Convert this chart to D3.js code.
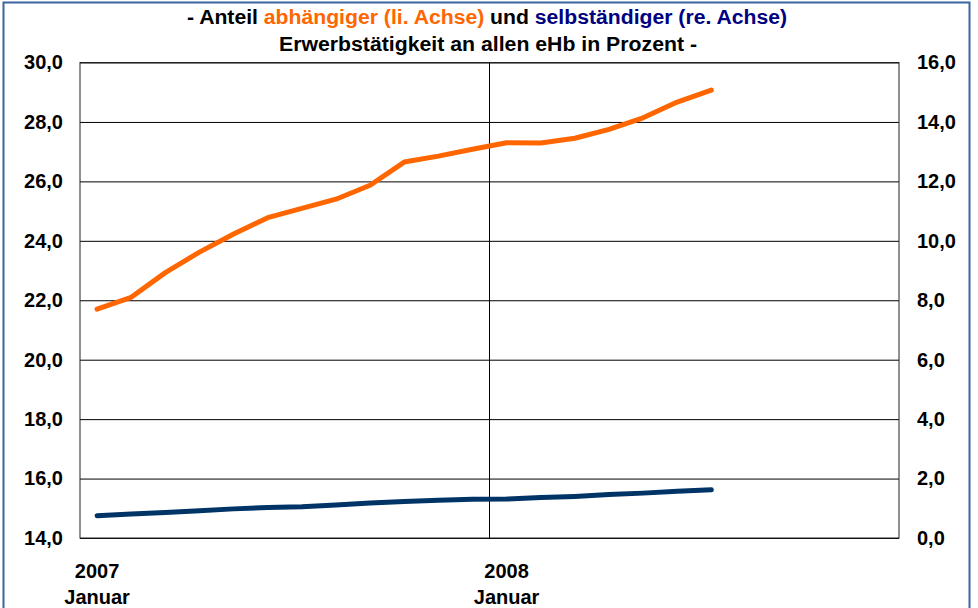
<html>
<head>
<script src="https://d3js.org/d3.v7.min.js"></script>
<style>
  body { margin: 0; background: #fff; }
  svg text { font-family: Arial, "Liberation Sans", sans-serif; font-weight: bold; }
  .gridlines line { stroke: #000; }
  .gridlines .domain { stroke: none; }
</style>
</head>
<body>
<svg width="978" height="608" id="linechart"></svg>
<script>
// months on the category axis (Jan 2007 - Dec 2008)
const months = ['2007-01','2007-02','2007-03','2007-04','2007-05','2007-06','2007-07','2007-08','2007-09','2007-10','2007-11','2007-12',
                '2008-01','2008-02','2008-03','2008-04','2008-05','2008-06','2008-07','2008-08','2008-09','2008-10','2008-11','2008-12'];
// share of dependent employment, left axis
const abhaengig = [21.70, 22.10, 22.93, 23.62, 24.23, 24.78, 25.09, 25.40, 25.87, 26.65, 26.85, 27.08,
                   27.30, 27.29, 27.45, 27.75, 28.14, 28.67, 29.07];
// share of self employment, right axis
const selbstaendig = [0.75, 0.81, 0.86, 0.92, 0.98, 1.03, 1.05, 1.11, 1.18, 1.23, 1.27, 1.30,
                      1.31, 1.36, 1.40, 1.46, 1.51, 1.57, 1.62];
const leftTicks = [14, 16, 18, 20, 22, 24, 26, 28, 30];
const rightTicks = [0, 2, 4, 6, 8, 10, 12, 14, 16];
const yearTicks = ['2007-01', '2008-01'];
const yearLabels = ['2007', '2008'];
const monthLabel = 'Januar';

const svg = d3.select('svg#linechart');
const plot = { left: 80, right: 899, top: 62.5, bottom: 538 };

const fmt = v => d3.format('.1f')(v).replace('.', ',');

const xScale = d3.scaleBand().domain(months).range([plot.left, plot.right]);
const xMid = m => xScale(m) + xScale.bandwidth() / 2;
const yLeft = d3.scaleLinear().domain([14, 30]).range([plot.bottom, plot.top]);
const yRight = d3.scaleLinear().domain([0, 16]).range([plot.bottom, plot.top]);

// outer frame
svg.append('rect')
  .attr('x', 3.5).attr('y', 2.5)
  .attr('width', 966).attr('height', 640)
  .attr('fill', 'none')
  .attr('stroke', '#3a659e')
  .attr('stroke-width', 2);

// title
const t1 = svg.append('text')
  .attr('x', 487).attr('y', 24)
  .attr('text-anchor', 'middle')
  .attr('font-size', 20)
  .attr('textLength', 600).attr('lengthAdjust', 'spacingAndGlyphs');
t1.append('tspan').attr('fill', '#000').text('- Anteil ');
t1.append('tspan').attr('fill', '#ff6600').text('abhängiger (li. Achse)');
t1.append('tspan').attr('fill', '#000').text(' und ');
t1.append('tspan').attr('fill', '#000080').text('selbständiger (re. Achse)');

svg.append('text')
  .attr('x', 488).attr('y', 51)
  .attr('text-anchor', 'middle')
  .attr('font-size', 20)
  .attr('textLength', 418).attr('lengthAdjust', 'spacingAndGlyphs')
  .text('Erwerbstätigkeit an allen eHb in Prozent -');

// horizontal gridlines
svg.append('g')
  .attr('class', 'gridlines')
  .attr('transform', `translate(${plot.left},0)`)
  .call(d3.axisLeft(yLeft).tickValues(leftTicks).tickSize(-(plot.right - plot.left)).tickFormat(''));

// yearly vertical gridline (between December and January)
svg.append('g')
  .selectAll('line')
  .data(yearTicks.slice(1))
  .join('line')
  .attr('x1', d => xScale(d)).attr('x2', d => xScale(d))
  .attr('y1', plot.top).attr('y2', plot.bottom)
  .attr('stroke', '#000');

// plot frame
svg.append('rect')
  .attr('x', plot.left).attr('y', plot.top)
  .attr('width', plot.right - plot.left).attr('height', plot.bottom - plot.top)
  .attr('fill', 'none')
  .attr('stroke', '#222');

// left axis labels
svg.append('g')
  .attr('transform', `translate(${plot.left},0)`)
  .call(d3.axisLeft(yLeft).tickValues(leftTicks).tickSize(0).tickPadding(17).tickFormat(fmt))
  .call(g => g.select('.domain').remove())
  .call(g => g.selectAll('text').attr('font-size', 20).attr('fill', '#000').attr('font-family', null));

// right axis labels
svg.append('g')
  .attr('transform', `translate(${plot.right},0)`)
  .call(d3.axisRight(yRight).tickValues(rightTicks).tickSize(0).tickPadding(18).tickFormat(fmt))
  .call(g => g.select('.domain').remove())
  .call(g => g.selectAll('text').attr('font-size', 20).attr('fill', '#000').attr('font-family', null));

// bottom labels
const xl = svg.append('g').selectAll('text')
  .data(yearTicks)
  .join('text')
  .attr('text-anchor', 'middle')
  .attr('font-size', 20);
xl.append('tspan').attr('x', d => xMid(d)).attr('y', 578).text((d, i) => yearLabels[i]);
xl.append('tspan').attr('x', d => xMid(d)).attr('y', 604).text(monthLabel);

// lines
const lineLeft = d3.line().x((d, i) => xMid(months[i])).y(d => yLeft(d));
const lineRight = d3.line().x((d, i) => xMid(months[i])).y(d => yRight(d));

svg.append('path')
  .datum(selbstaendig)
  .attr('d', lineRight)
  .attr('fill', 'none')
  .attr('stroke', '#003366')
  .attr('stroke-width', 5)
  .attr('stroke-linecap', 'round')
  .attr('stroke-linejoin', 'round');

svg.append('path')
  .datum(abhaengig)
  .attr('d', lineLeft)
  .attr('fill', 'none')
  .attr('stroke', '#ff6600')
  .attr('stroke-width', 5)
  .attr('stroke-linecap', 'round')
  .attr('stroke-linejoin', 'round');
</script>
</body>
</html>
